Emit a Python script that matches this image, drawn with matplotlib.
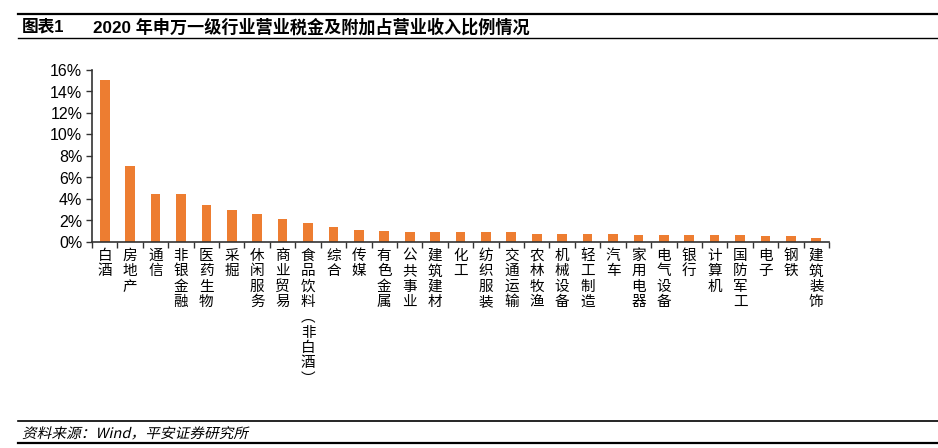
import numpy as np
import matplotlib
matplotlib.use("Agg")
import matplotlib.pyplot as plt
from matplotlib.ticker import FixedLocator, PercentFormatter
from matplotlib.textpath import TextPath
from matplotlib.font_manager import FontProperties
from matplotlib.patches import PathPatch
from matplotlib.transforms import Affine2D

plt.rcParams['font.family'] = ['Liberation Sans', 'Noto Sans CJK SC', 'DejaVu Sans']

# industry names (Shenwan level-1) and tax share of revenue, %
industries = ['白酒', '房地产', '通信', '非银金融', '医药生物', '采掘', '休闲服务', '商业贸易',
              '食品饮料︵非白酒︶', '综合', '传媒', '有色金属', '公共事业', '建筑建材', '化工',
              '纺织服装', '交通运输', '农林牧渔', '机械设备', '轻工制造', '汽车', '家用电器',
              '电气设备', '银行', '计算机', '国防军工', '电子', '钢铁', '建筑装饰']
tax_share = [15.07, 7.1, 4.47, 4.47, 3.44, 2.95, 2.58, 2.17, 1.8, 1.42, 1.15, 1.02, 0.9, 0.9, 0.9,
             0.9, 0.9, 0.78, 0.78, 0.78, 0.78, 0.65, 0.65, 0.65, 0.65, 0.65, 0.53, 0.53, 0.37]
y_ticks = [0, 2, 4, 6, 8, 10, 12, 14, 16]

fig = plt.figure(figsize=(9.38, 4.48), dpi=100)
ax = fig.add_axes([92/938, (448-242)/448, 737/938, 172/448])

x = np.arange(len(industries))
ax.bar(x, tax_share, width=0.38, color='#ED7D31', zorder=2)

ax.set_xlim(-0.5, len(industries) - 0.5)
ax.set_ylim(0, 16)
ax.yaxis.set_major_locator(FixedLocator(y_ticks))
ax.yaxis.set_major_formatter(PercentFormatter(decimals=0))

ax.set_xticks(x)
ax.set_xticklabels(['\n'.join(s) for s in industries], fontsize=10.5, linespacing=1.12,
                   family=['Noto Sans CJK SC', 'DejaVu Sans'], va='top')
ax.xaxis.set_minor_locator(FixedLocator(np.arange(-0.5, len(industries), 1.0)))
ax.tick_params(axis='x', which='major', length=0, pad=5)
ax.tick_params(axis='x', which='minor', length=4, width=1, direction='out', color='#333333')
ax.tick_params(axis='y', length=4, width=1, direction='out', labelsize=11.5, color='#333333', pad=3)

for s in ['top', 'right']:
    ax.spines[s].set_visible(False)
for s in ['left', 'bottom']:
    ax.spines[s].set_color('#333333')
    ax.spines[s].set_linewidth(1.2)

# header and footer frame
fig.add_artist(plt.Line2D([18/938, 1], [1 - 14/448] * 2, color='black', lw=1.6))
fig.add_artist(plt.Line2D([18/938, 1], [1 - 38/448] * 2, color='black', lw=1.0))
fig.add_artist(plt.Line2D([18/938, 1], [1 - 421/448] * 2, color='black', lw=1.2))
fig.add_artist(plt.Line2D([18/938, 1], [1 - 443/448] * 2, color='black', lw=1.6))

fig.text(22/938, 1 - 27/448, '图表1', fontsize=12, fontweight='bold', va='center',
         family=['Liberation Sans', 'Noto Sans CJK SC'])
fig.text(93/938, 1 - 27/448, '2020 年申万一级行业营业税金及附加占营业收入比例情况', fontsize=12.3,
         fontweight='bold', va='center', family=['Liberation Sans', 'Noto Sans CJK SC'])

# source note, slanted like the original italic
src = TextPath((0, 0), '资料来源：Wind，平安证券研究所', size=14,
               prop=FontProperties(family='Noto Sans CJK SC'))
slant = Affine2D().skew_deg(12, 0).scale(1.05, 1).translate(22, 448 - 438)
fig.add_artist(PathPatch(src, transform=slant, facecolor='black', edgecolor='none'))

fig.savefig('out.png', dpi=100)
